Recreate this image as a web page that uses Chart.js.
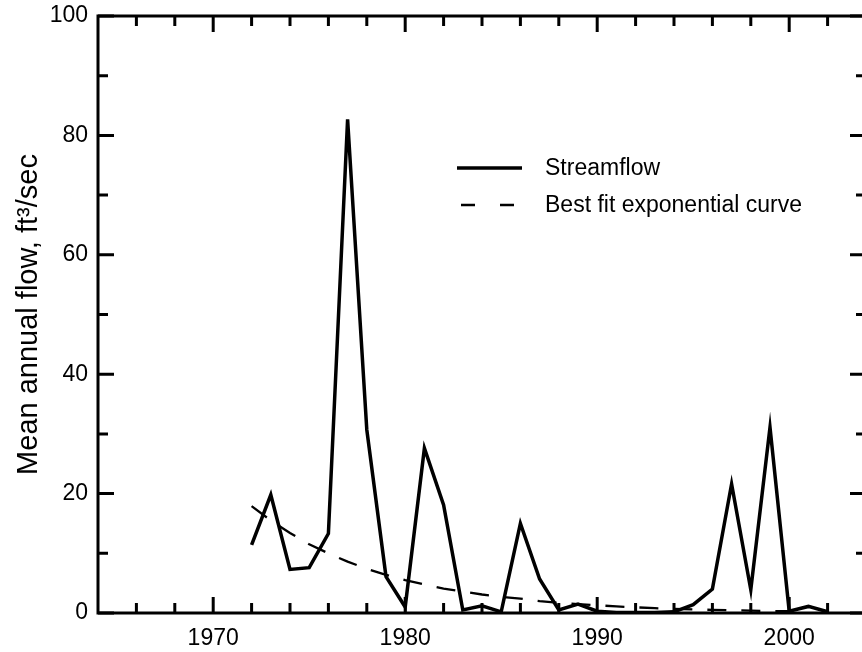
<!DOCTYPE html>
<html>
<head>
<meta charset="utf-8">
<script src="https://cdn.jsdelivr.net/npm/chart.js@4"></script>
<style>
  html, body { margin: 0; padding: 0; overflow: hidden; background: #fff; }
</style>
</head>
<body>
<canvas id="flowChart" width="870" height="652"></canvas>
<script>
const years = [1972, 1973, 1974, 1975, 1976, 1977, 1978, 1979, 1980, 1981,
  1982, 1983, 1984, 1985, 1986, 1987, 1988, 1989, 1990, 1991, 1992, 1993,
  1994, 1995, 1996, 1997, 1998, 1999, 2000, 2001, 2002];
const streamflow = [11.4, 19.8, 7.3, 7.6, 13.3, 82.7, 30.7, 6.1, 1.0, 27.6,
  18.1, 0.5, 1.2, 0.2, 15.0, 5.7, 0.5, 1.5, 0.3, 0.1, 0.1, 0.1,
  0.2, 1.4, 4.0, 21.6, 3.9, 31.1, 0.3, 1.1, 0.2];

const fitYears = [1972, 1973, 1974, 1975, 1976, 1977, 1978, 1979, 1980, 1981,
  1982, 1983, 1984, 1985, 1986, 1987, 1988, 1989, 1990, 1991, 1992, 1993,
  1994, 1995, 1996, 1997, 1998, 1999, 2000];
const fitValues = [17.9, 15.5, 13.4, 11.5, 10.0, 8.6, 7.4, 6.4, 5.5, 4.8,
  4.1, 3.6, 3.1, 2.7, 2.4, 2.0, 1.7, 1.5, 1.3, 1.1, 0.95, 0.8,
  0.7, 0.6, 0.53, 0.46, 0.4, 0.34, 0.3];

const xLabelTicks = [1970, 1980, 1990, 2000];
const xMinorTicks = [1966, 1968, 1972, 1974, 1976, 1978, 1982, 1984, 1986, 1988,
  1992, 1994, 1996, 1998, 2002];
const yLabelTicks = [0, 20, 40, 60, 80, 100];
const yMinorTicks = [10, 30, 50, 70, 90];

const FONT = "'Liberation Sans', Arial, sans-serif";

// frame, inward ticks on all four sides, and the legend inside the plot
const frameAndTicks = {
  id: 'frameAndTicks',
  afterDatasetsDraw(chart) {
    const { ctx, chartArea: a, scales: { x, y } } = chart;
    ctx.save();
    ctx.strokeStyle = '#000';
    ctx.lineWidth = 3;
    ctx.strokeRect(a.left, a.top, a.right - a.left, a.bottom - a.top);

    ctx.beginPath();
    const xTick = (v, len) => {
      const px = x.getPixelForValue(v);
      ctx.moveTo(px, a.bottom); ctx.lineTo(px, a.bottom - len);
      ctx.moveTo(px, a.top); ctx.lineTo(px, a.top + len);
    };
    const yTick = (v, len) => {
      const py = y.getPixelForValue(v);
      ctx.moveTo(a.left, py); ctx.lineTo(a.left + len, py);
      ctx.moveTo(a.right, py); ctx.lineTo(a.right - len, py);
    };
    xLabelTicks.forEach(v => xTick(v, 16));
    xMinorTicks.forEach(v => xTick(v, 10));
    yLabelTicks.forEach(v => yTick(v, 16));
    yMinorTicks.forEach(v => yTick(v, 10));
    ctx.stroke();

    // legend
    const ds = chart.data.datasets;
    const rows = [168, 205];
    ctx.font = '23px ' + FONT;
    ctx.fillStyle = '#000';
    ctx.textBaseline = 'middle';
    ds.forEach((d, i) => {
      ctx.beginPath();
      ctx.lineWidth = d.borderWidth;
      ctx.setLineDash(i === 1 ? [14, 25] : []);
      ctx.moveTo(i === 1 ? 461 : 457, rows[i]);
      ctx.lineTo(522, rows[i]);
      ctx.stroke();
      ctx.fillText(d.label, 545, rows[i] + 1);
    });
    ctx.restore();
  }
};

new Chart('flowChart', {
  type: 'line',
  data: {
    datasets: [
      {
        label: 'Streamflow',
        data: years.map((yr, i) => ({ x: yr, y: streamflow[i] })),
        borderColor: '#000',
        borderWidth: 3.5,
        pointRadius: 0,
        tension: 0,
        fill: false,
      },
      {
        label: 'Best fit exponential curve',
        data: fitYears.map((yr, i) => ({ x: yr, y: fitValues[i] })),
        borderColor: '#000',
        borderWidth: 2.3,
        borderDash: [19, 15],
        pointRadius: 0,
        tension: 0,
        fill: false,
      },
    ],
  },
  options: {
    responsive: false,
    animation: false,
    layout: { padding: { top: 16, right: 4, left: 0, bottom: 0 } },
    plugins: {
      legend: { display: false },
      tooltip: { enabled: false },
    },
    scales: {
      x: {
        type: 'linear',
        min: 1964,
        max: 2004,
        grid: { display: false, drawTicks: false },
        border: { display: false },
        afterBuildTicks: (s) => { s.ticks = xLabelTicks.map(v => ({ value: v })); },
        afterFit: (s) => { s.height = 39; s.paddingLeft = 0; s.paddingRight = 0; },
        ticks: {
          color: '#000',
          font: { family: FONT, size: 23 },
          padding: 12,
          maxRotation: 0,
          callback: (v) => String(v),
        },
      },
      y: {
        min: 0,
        max: 100,
        grid: { display: false, drawTicks: false },
        border: { display: false },
        afterBuildTicks: (s) => { s.ticks = yLabelTicks.map(v => ({ value: v })); },
        afterFit: (s) => { s.width = 98; s.paddingTop = 0; s.paddingBottom = 0; },
        ticks: {
          color: '#000',
          font: { family: FONT, size: 23 },
          padding: 10,
        },
        title: {
          display: true,
          text: 'Mean annual flow, ft\u00B3/sec',
          color: '#000',
          font: { family: FONT, size: 29 },
          padding: { top: 12, bottom: 0 },
        },
      },
    },
  },
  plugins: [frameAndTicks],
});
</script>
</body>
</html>
